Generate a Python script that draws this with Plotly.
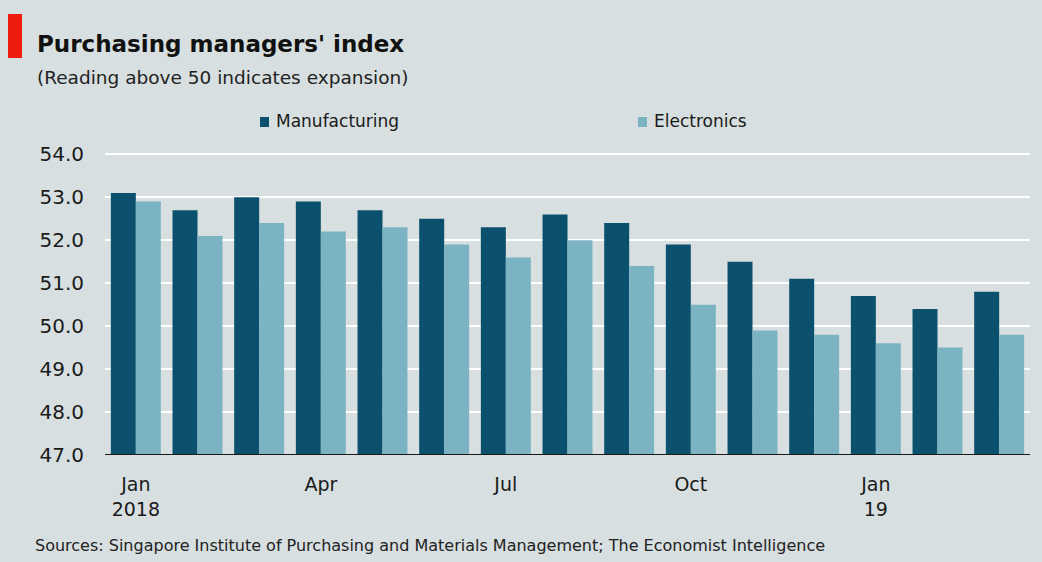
import plotly.graph_objects as go

months = ["Jan 2018", "Feb 2018", "Mar 2018", "Apr 2018", "May 2018",
          "Jun 2018", "Jul 2018", "Aug 2018", "Sep 2018", "Oct 2018",
          "Nov 2018", "Dec 2018", "Jan 2019", "Feb 2019", "Mar 2019"]
tick_labels = ["Jan<br>2018", "", "", "Apr", "", "", "Jul", "", "", "Oct",
               "", "", "Jan<br>19", "", ""]
manufacturing = [53.1, 52.7, 53.0, 52.9, 52.7, 52.5, 52.3, 52.6, 52.4,
                 51.9, 51.5, 51.1, 50.7, 50.4, 50.8]
electronics = [52.9, 52.1, 52.4, 52.2, 52.3, 51.9, 51.6, 52.0, 51.4,
               50.5, 49.9, 49.8, 49.6, 49.5, 49.8]
y_ticks = [47, 48, 49, 50, 51, 52, 53, 54]

W, H = 1042, 562
L, R, T, B = 105, 12, 153, 107
BG = "#d7dfe0"
DARK = "#0b506c"
LIGHT = "#7cb3c2"
FONT = "DejaVu Sans"
TEXT = "#1a1a1a"

pw = W - L - R
ph = H - T - B


def px_x(x):
    return (x - L) / pw


def px_y(y):
    return 1 + (T - y) / ph


xs = list(range(len(months)))
fig = go.Figure()
fig.add_trace(go.Bar(x=xs, y=manufacturing, name="Manufacturing",
                     marker=dict(color=DARK, line=dict(width=0)),
                     customdata=months,
                     hovertemplate="%{customdata}: %{y}<extra>Manufacturing</extra>"))
fig.add_trace(go.Bar(x=xs, y=electronics, name="Electronics",
                     marker=dict(color=LIGHT, line=dict(width=0)),
                     customdata=months,
                     hovertemplate="%{customdata}: %{y}<extra>Electronics</extra>"))

fig.update_layout(
    width=W, height=H,
    margin=dict(l=L, r=R, t=T, b=B),
    paper_bgcolor=BG, plot_bgcolor=BG,
    barmode="group", bargap=0.19, bargroupgap=0,
    font=dict(family=FONT, color=TEXT, size=16),
    showlegend=False,
)

fig.update_xaxes(
    tickmode="array", tickvals=xs, ticktext=tick_labels,
    showgrid=False, ticks="", showline=False, zeroline=False,
    tickfont=dict(size=19, family=FONT, color=TEXT),
    ticklabelstandoff=16,
    range=[-0.5, len(months) - 0.5],
)
fig.update_yaxes(
    range=[47, 54.03], tickmode="array", tickvals=y_ticks,
    ticktext=[f"{v:.1f}" for v in y_ticks],
    showgrid=True, gridcolor="#ffffff", gridwidth=2,
    zeroline=False, showline=False, ticks="",
    tickfont=dict(size=20, family=FONT, color=TEXT),
    ticklabelstandoff=20,
)

# baseline along 47.0
fig.add_shape(type="line", xref="paper", yref="y", x0=0, x1=1, y0=47, y1=47,
              line=dict(color="#1a1a1a", width=2), layer="above")

# red accent block beside the title
fig.add_shape(type="rect", xref="paper", yref="paper",
              x0=px_x(8), x1=px_x(22), y0=px_y(58), y1=px_y(14),
              fillcolor="#ee1c0e", line=dict(width=0))

# legend keys
for label, color, sx in [("Manufacturing", DARK, 260), ("Electronics", LIGHT, 638)]:
    fig.add_shape(type="rect", xref="paper", yref="paper",
                  x0=px_x(sx), x1=px_x(sx + 9), y0=px_y(127), y1=px_y(117),
                  fillcolor=color, line=dict(width=0))
    fig.add_annotation(text=label, xref="paper", yref="paper",
                       x=px_x(sx + 14), y=px_y(121), xanchor="left",
                       yanchor="middle", showarrow=False,
                       font=dict(size=17, family=FONT, color=TEXT))

fig.add_annotation(text="<b>Purchasing managers' index</b>", xref="paper",
                   yref="paper", x=px_x(35), y=px_y(44),
                   xanchor="left", yanchor="middle", showarrow=False,
                   font=dict(size=23, family=FONT, color="#111111"))
fig.add_annotation(text="(Reading above 50 indicates expansion)", xref="paper",
                   yref="paper", x=px_x(35), y=px_y(77),
                   xanchor="left", yanchor="middle", showarrow=False,
                   font=dict(size=18.5, family=FONT, color="#222222"))
fig.add_annotation(text="Sources: Singapore Institute of Purchasing and Materials Management; The Economist Intelligence",
                   xref="paper", yref="paper", x=px_x(33),
                   y=px_y(545), xanchor="left", yanchor="middle",
                   showarrow=False,
                   font=dict(size=16, family=FONT, color="#222222"))

fig.write_html("out.html")
